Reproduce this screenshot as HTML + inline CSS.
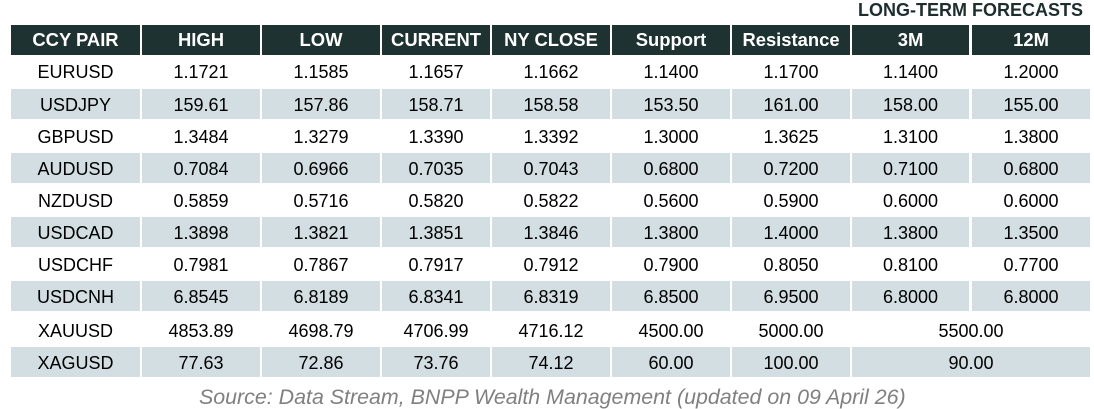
<!DOCTYPE html>
<html>
<head>
<meta charset="utf-8">
<style>
html,body{margin:0;padding:0;background:#fff;}
body{width:1094px;height:409px;position:relative;overflow:hidden;font-family:"Liberation Sans",Arial,sans-serif;color:#000;}
.title{position:absolute;right:11px;top:0;height:20px;line-height:20px;font-size:18px;font-weight:bold;color:#1e2e2e;white-space:nowrap;}
.row{position:absolute;left:0;width:1094px;height:30px;font-size:18px;}
.row div{position:absolute;top:0;height:30px;line-height:30px;text-align:center;white-space:nowrap;}
.bg div{background:#d3dee3;line-height:32px;}
.hd div{background:#1d3231;color:#fff;font-weight:bold;font-size:18.4px;}
.a{left:11px;width:129px;}
.b{left:142px;width:118px;}
.c{left:262px;width:118px;}
.d{left:382px;width:108px;}
.e{left:492px;width:118px;}
.f{left:612px;width:118px;}
.g{left:732px;width:118px;}
.h{left:852px;width:117px;}
.i{left:972px;width:118px;}
.hi{left:852px;width:238px;}
.src{position:absolute;left:199px;top:385px;height:24px;line-height:24px;font-size:21.4px;font-style:italic;color:#808080;white-space:nowrap;}
</style>
</head>
<body>
<div class="title">LONG-TERM FORECASTS</div>

<div class="row hd" style="top:25px">
<div class="a">CCY PAIR</div><div class="b">HIGH</div><div class="c">LOW</div><div class="d">CURRENT</div><div class="e">NY CLOSE</div><div class="f">Support</div><div class="g">Resistance</div><div class="h">3M</div><div class="i">12M</div>
</div>

<div class="row" style="top:57px">
<div class="a">EURUSD</div><div class="b">1.1721</div><div class="c">1.1585</div><div class="d">1.1657</div><div class="e">1.1662</div><div class="f">1.1400</div><div class="g">1.1700</div><div class="h">1.1400</div><div class="i">1.2000</div>
</div>

<div class="row bg" style="top:89px">
<div class="a">USDJPY</div><div class="b">159.61</div><div class="c">157.86</div><div class="d">158.71</div><div class="e">158.58</div><div class="f">153.50</div><div class="g">161.00</div><div class="h">158.00</div><div class="i">155.00</div>
</div>

<div class="row" style="top:122px">
<div class="a">GBPUSD</div><div class="b">1.3484</div><div class="c">1.3279</div><div class="d">1.3390</div><div class="e">1.3392</div><div class="f">1.3000</div><div class="g">1.3625</div><div class="h">1.3100</div><div class="i">1.3800</div>
</div>

<div class="row bg" style="top:153px">
<div class="a">AUDUSD</div><div class="b">0.7084</div><div class="c">0.6966</div><div class="d">0.7035</div><div class="e">0.7043</div><div class="f">0.6800</div><div class="g">0.7200</div><div class="h">0.7100</div><div class="i">0.6800</div>
</div>

<div class="row" style="top:186px">
<div class="a">NZDUSD</div><div class="b">0.5859</div><div class="c">0.5716</div><div class="d">0.5820</div><div class="e">0.5822</div><div class="f">0.5600</div><div class="g">0.5900</div><div class="h">0.6000</div><div class="i">0.6000</div>
</div>

<div class="row bg" style="top:217px">
<div class="a">USDCAD</div><div class="b">1.3898</div><div class="c">1.3821</div><div class="d">1.3851</div><div class="e">1.3846</div><div class="f">1.3800</div><div class="g">1.4000</div><div class="h">1.3800</div><div class="i">1.3500</div>
</div>

<div class="row" style="top:250px">
<div class="a">USDCHF</div><div class="b">0.7981</div><div class="c">0.7867</div><div class="d">0.7917</div><div class="e">0.7912</div><div class="f">0.7900</div><div class="g">0.8050</div><div class="h">0.8100</div><div class="i">0.7700</div>
</div>

<div class="row bg" style="top:281px">
<div class="a">USDCNH</div><div class="b">6.8545</div><div class="c">6.8189</div><div class="d">6.8341</div><div class="e">6.8319</div><div class="f">6.8500</div><div class="g">6.9500</div><div class="h">6.8000</div><div class="i">6.8000</div>
</div>

<div class="row" style="top:316px">
<div class="a">XAUUSD</div><div class="b">4853.89</div><div class="c">4698.79</div><div class="d">4706.99</div><div class="e">4716.12</div><div class="f">4500.00</div><div class="g">5000.00</div><div class="hi">5500.00</div>
</div>

<div class="row bg" style="top:347px">
<div class="a">XAGUSD</div><div class="b">77.63</div><div class="c">72.86</div><div class="d">73.76</div><div class="e">74.12</div><div class="f">60.00</div><div class="g">100.00</div><div class="hi">90.00</div>
</div>

<div class="src">Source: Data Stream, BNPP Wealth Management (updated on 09 April 26)</div>
</body>
</html>
